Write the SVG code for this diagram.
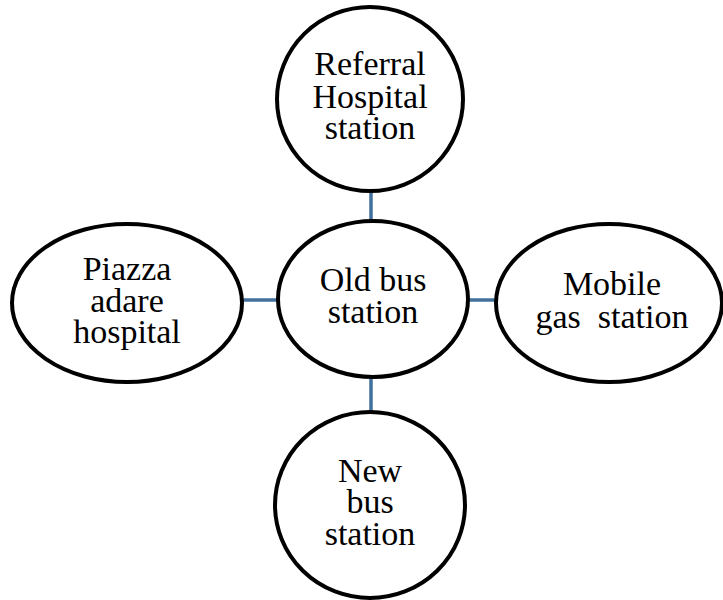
<svg xmlns="http://www.w3.org/2000/svg" width="723" height="600" viewBox="0 0 723 600">
  <style>
    .node { fill: #ffffff; stroke: #000000; stroke-width: 4; }
    .link { stroke: #41719c; stroke-width: 3.5; fill: none; }
    .label { font-family: "Liberation Serif", "Times New Roman", serif; font-size: 34px; fill: #000000; text-anchor: middle; white-space: pre; }
  </style>
  <rect width="723" height="600" fill="#ffffff"/>

  <!-- connectors from the hub to each surrounding node -->
  <g id="connectors">
    <line class="link" x1="371" y1="191" x2="371" y2="222"/>
    <line class="link" x1="243" y1="300" x2="279" y2="300"/>
    <line class="link" x1="467" y1="300" x2="496" y2="300"/>
    <line class="link" x1="371" y1="376" x2="371" y2="413"/>
  </g>

  <g id="referral-hospital">
    <ellipse class="node" cx="370" cy="99" rx="93" ry="92"/>
    <text class="label" x="370" y="75">Referral<tspan x="370" y="108">Hospital</tspan><tspan x="370" y="139">station</tspan></text>
  </g>

  <g id="piazza-adare">
    <ellipse class="node" cx="127" cy="303" rx="115" ry="79"/>
    <text class="label" x="127" y="280">Piazza<tspan x="127" y="312">adare</tspan><tspan x="127" y="343">hospital</tspan></text>
  </g>

  <g id="old-bus-station">
    <ellipse class="node" cx="373" cy="299" rx="95" ry="78"/>
    <text class="label" x="373" y="291">Old bus<tspan x="373" y="323">station</tspan></text>
  </g>

  <g id="mobile-gas-station">
    <ellipse class="node" cx="609" cy="303" rx="113" ry="79"/>
    <text class="label" x="612" y="295">Mobile<tspan x="612" y="328">gas  station</tspan></text>
  </g>

  <g id="new-bus-station">
    <ellipse class="node" cx="370" cy="505" rx="95" ry="93"/>
    <text class="label" x="370" y="482">New<tspan x="370" y="513">bus</tspan><tspan x="370" y="545">station</tspan></text>
  </g>
</svg>
